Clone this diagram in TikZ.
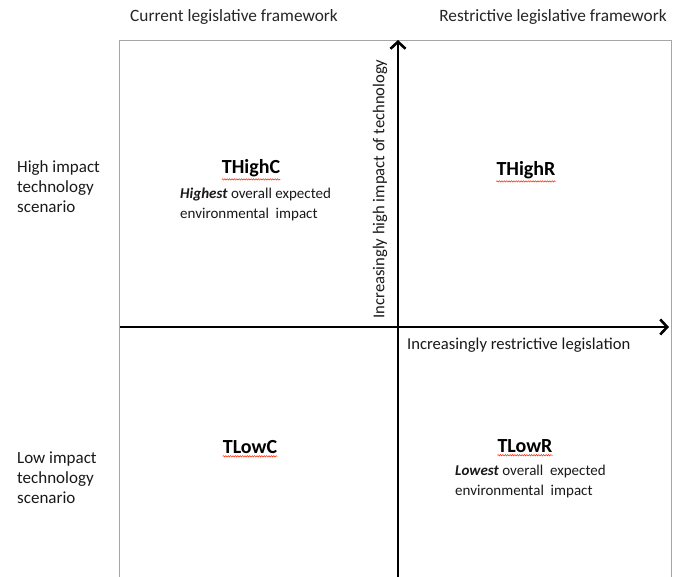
\documentclass[tikz,border=0pt]{standalone}
\usepackage{fontspec}
\setmainfont{Carlito}
\usetikzlibrary{arrows.meta,decorations.pathmorphing}
\tikzset{
  head/.style={font=\fontsize{17.3}{20}\selectfont, text=black!85, inner sep=0pt},
  side/.style={font=\fontsize{17}{20}\selectfont, text=black!90, align=left, anchor=north west, inner sep=0pt},
  quad/.style={font=\bfseries\fontsize{20}{22}\selectfont, inner sep=0pt},
  note/.style={font=\fontsize{15}{19.5}\selectfont, align=left, anchor=north west, inner sep=0pt, text=black!90},
  axlabel/.style={font=\fontsize{16.6}{18}\selectfont, inner sep=0pt, text=black!90},
  axis/.style={line width=2.6pt, -{Straight Barb[length=7pt,width=15pt,line width=2.6pt]}},
  squiggle/.style={draw=red!70!orange, line width=0.5pt, decorate, decoration={snake, amplitude=0.7pt, segment length=2.4pt}},
  frame/.style={draw=black!35, line width=1pt}
}
\begin{document}
\begin{tikzpicture}[x=1pt,y=-1pt]
\useasboundingbox (0,0) rectangle (678,577);
\fill[white] (0,0) rectangle (678,577);

% outer frame, open at the bottom
\draw[frame] (119,577) -- (119,41) -- (671,41) -- (671,577);

% column headers
\node[head] (hc) at (234,17) {Current legislative framework};
\node[head] (hr) at (553,17) {Restrictive legislative framework};

% row headers
\node[side] (hi) at (17,160) {High impact\\technology\\scenario};
\node[side] (lo) at (17,452) {Low impact\\technology\\scenario};

% axes
\coordinate (xs) at (120,327);
\coordinate (xe) at (669,327);
\coordinate (ys) at (398,577);
\coordinate (ye) at (398,40);
\draw[axis] (xs) -- (xe);
\draw[axis] (ys) -- (ye);

\node[axlabel, anchor=west] (xl) at (407,345) {Increasingly restrictive legislation};
\node[axlabel, rotate=90] (yl) at (380,189) {Increasingly high impact of technology};

% quadrant labels
\node[quad] (thc) at (251,168) {THighC};
\node[quad] (thr) at (526,170) {THighR};
\node[quad] (tlc) at (250,447) {TLowC};
\node[quad] (tlr) at (525,446) {TLowR};
\foreach \n in {thc,thr,tlc,tlr}
  \draw[squiggle] ([yshift=-2.5pt]\n.south west) -- ([yshift=-2.5pt]\n.south east);

\node[note] (nh) at (180,188) {\textbf{\textit{Highest}} overall expected\\environmental\ \ impact};
\node[note] (nl) at (455,465) {\textbf{\textit{Lowest}} overall\ \ expected\\environmental\ \ impact};
\end{tikzpicture}
\end{document}
